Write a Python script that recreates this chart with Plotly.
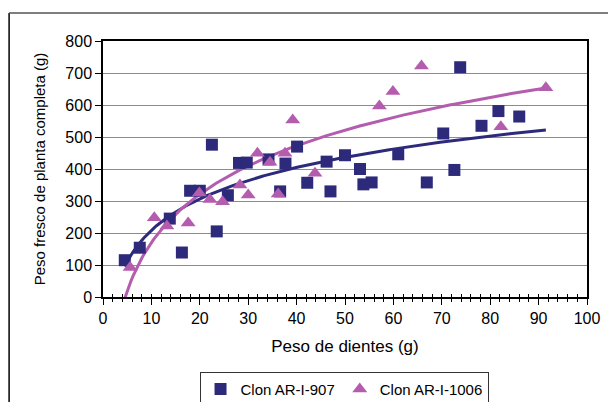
import numpy as np
import plotly.graph_objects as go

# Clon AR-I-907 (squares)
x_907 = [4.5, 7.6, 13.8, 16.3, 18.0, 20.0, 22.5, 23.5, 25.8, 28.1, 29.7, 34.2, 36.6, 37.7, 40.1,
         42.2, 46.2, 47.0, 50.0, 53.1, 53.8, 55.5, 61.0, 66.9, 70.3, 72.6, 73.8, 78.2, 81.7, 86.0]
y_907 = [115, 154, 245, 139, 332, 332, 476, 205, 318, 419, 420, 430, 330, 417, 470,
         357, 423, 330, 443, 400, 352, 358, 446, 358, 511, 397, 718, 535, 581, 564]

# Clon AR-I-1006 (triangles)
x_1006 = [5.6, 10.6, 13.2, 17.6, 19.9, 22.1, 24.7, 28.3, 30.0, 31.9, 34.5, 36.2, 37.6, 39.2,
          43.8, 57.1, 59.9, 65.8, 82.2, 91.5]
y_1006 = [92, 248, 222, 231, 325, 305, 298, 350, 319, 449, 421, 322, 449, 553,
          387, 597, 642, 722, 532, 654]

# logarithmic trendlines y = a*ln(x) + b
fit_907 = (141.7, -117.8)
fit_1006 = (218.4, -333.0)
trend_range = (4.5, 91.5)

names = ["Clon AR-I-907", "Clon AR-I-1006"]
x_ticks = list(range(0, 101, 10))
y_ticks = list(range(0, 801, 100))

navy = "#2D2A7C"
orchid = "#B45DAE"
font = "Liberation Sans, Arial, sans-serif"

xt = np.linspace(trend_range[0], trend_range[1], 200)

fig = go.Figure()
fig.add_trace(go.Scatter(x=xt, y=fit_907[0] * np.log(xt) + fit_907[1], mode="lines",
                         line=dict(color=navy, width=3), showlegend=False, hoverinfo="skip"))
fig.add_trace(go.Scatter(x=xt, y=fit_1006[0] * np.log(xt) + fit_1006[1], mode="lines",
                         line=dict(color=orchid, width=3), showlegend=False, hoverinfo="skip"))
fig.add_trace(go.Scatter(x=x_907, y=y_907, mode="markers", name=names[0],
                         marker=dict(symbol="square", size=12, color=navy)))
fig.add_trace(go.Scatter(x=x_1006, y=y_1006, mode="markers", name=names[1],
                         marker=dict(symbol="triangle-up", size=13, color=orchid)))
# helper trace for inside tick marks axis
fig.add_trace(go.Scatter(x=[0], y=[0], xaxis="x2", mode="markers",
                         marker=dict(opacity=0), showlegend=False, hoverinfo="skip"))

fig.update_layout(
    width=616, height=430,
    margin=dict(l=95, r=37, t=33, b=141),
    paper_bgcolor="white", plot_bgcolor="white",
    font=dict(family=font, color="black", size=14),
    xaxis=dict(range=[0, 100], tickvals=x_ticks, ticks="outside", ticklen=6, tickwidth=1.2,
               tickcolor="black", showline=True, linecolor="black", linewidth=1.5, mirror=True,
               showgrid=False, zeroline=False, automargin=False,
               minor=dict(dtick=2, ticks="outside", ticklen=3, tickwidth=1.2, tickcolor="black"),
               tickfont=dict(size=16),
               title=dict(text="Peso de dientes (g)", font=dict(size=17), standoff=14)),
    xaxis2=dict(range=[0, 100], overlaying="x", anchor="y", side="bottom", tickvals=x_ticks,
                ticks="inside", ticklen=3, tickwidth=1.2, tickcolor="black", showticklabels=False,
                showline=False, showgrid=False, zeroline=False,
                minor=dict(dtick=2, ticks="inside", ticklen=3, tickwidth=1.2, tickcolor="black")),
    yaxis=dict(range=[0, 800], tickvals=y_ticks, ticks="outside", ticklen=6, tickwidth=1.2,
               tickcolor="black", showline=True, linecolor="black", linewidth=1.5, mirror=True,
               showgrid=True, gridcolor="#8C8C8C", gridwidth=1.2, zeroline=False, automargin=False,
               tickfont=dict(size=16),
               title=dict(text="Peso fresco de planta completa (g)", font=dict(size=15), standoff=16)),
    legend=dict(orientation="h", x=0.498, xanchor="center", y=-0.292, yanchor="top",
                bordercolor="#333333", borderwidth=1, bgcolor="white",
                font=dict(size=15), itemwidth=30, tracegroupgap=0),
    shapes=[
        dict(type="line", xref="paper", yref="paper", x0=-0.194, x1=-0.194, y0=1.109, y1=-0.6,
             line=dict(color="black", width=1.5)),
        dict(type="line", xref="paper", yref="paper", x0=-0.194, x1=1.2, y0=1.109, y1=1.109,
             line=dict(color="#555555", width=1.5)),
    ],
)

fig.write_html("out.html")
